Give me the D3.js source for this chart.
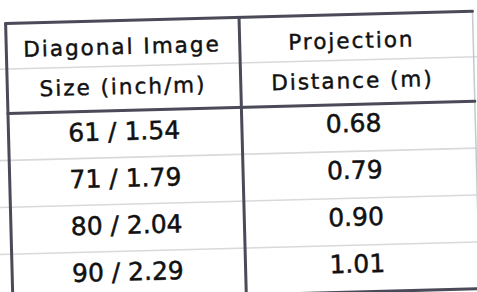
<!DOCTYPE html>
<html>
<head>
<meta charset="utf-8">
<script src="https://cdn.jsdelivr.net/npm/d3@7"></script>
<style>
  body { margin: 0; background: #ffffff; }
  svg { display: block; }
</style>
</head>
<body>
<div id="table"></div>
<script>
// table values
var columns = ["size", "distance"];
var headerSize = ["Diagonal Image", "Size (inch/m)"];
var headerDistance = ["Projection", "Distance (m)"];
var sizeInch = [61, 71, 80, 90];
var sizeMeter = ["1.54", "1.79", "2.04", "2.29"];
var distance = ["0.68", "0.79", "0.90", "1.01"];

var svgWidth = 477;
var svgHeight = 292;

// (don't call it "top", window.top is taken)
var tLeft = 9, tRight = 476, tTop = 17.5, headBottom = 107.5, tBottom = 295;

var svg = d3.select("#table")
    .append("svg")
    .attr("width", svgWidth)
    .attr("height", svgHeight);

// the photo is a little tilted
var g = svg.append("g")
    .attr("transform", "rotate(-1.5, 240, 150)");

var rows = d3.range(sizeInch.length);

var xScale = d3.scaleBand()
    .domain(columns)
    .range([tLeft, tRight]);

var yScale = d3.scaleBand()
    .domain(rows)
    .range([headBottom, tBottom]);

// faint ruled paper lines
var ruled = [63].concat(rows.slice(1).map(function(r) { return yScale(r); }));
g.selectAll(".ruled")
    .data(ruled)
    .enter()
    .append("line")
    .attr("class", "ruled")
    .attr("x1", -20)
    .attr("x2", 500)
    .attr("y1", d => d)
    .attr("y2", d => d)
    .attr("stroke", "#d9d9dc")
    .attr("stroke-width", 1.6);

// right border is faint
g.append("line")
    .attr("x1", tRight).attr("x2", tRight)
    .attr("y1", tTop).attr("y2", tBottom)
    .attr("stroke", "#c8c8cc")
    .attr("stroke-width", 1.5);

// heavy lines
var dark = "#4a4a58";
var heavy = [
    [tLeft, tTop, tRight, tTop],
    [tLeft, tTop, tLeft, tBottom + 5],
    [tLeft, headBottom, tRight, headBottom],
    [xScale("distance"), tTop, xScale("distance"), tBottom],
    [tLeft, tBottom, tRight, tBottom]
];
g.selectAll(".heavy")
    .data(heavy)
    .enter()
    .append("line")
    .attr("class", "heavy")
    .attr("x1", d => d[0])
    .attr("y1", d => d[1])
    .attr("x2", d => d[2])
    .attr("y2", d => d[3])
    .attr("stroke", dark)
    .attr("stroke-width", 3)
    .attr("stroke-linecap", "round");

var font = "'Comic Sans MS', 'DejaVu Sans', sans-serif";
var colX = {
    size: xScale("size") + xScale.bandwidth() / 2 - 1,
    distance: xScale("distance") + xScale.bandwidth() / 2 - 5
};

// header text
var headBase = [51, 91];
g.selectAll(".headSize")
    .data(headerSize)
    .enter()
    .append("text")
    .attr("class", "headSize")
    .attr("x", colX.size)
    .attr("y", (d, i) => headBase[i])
    .attr("text-anchor", "middle")
    .attr("font-family", font)
    .attr("font-size", 21.5)
    .attr("letter-spacing", 2)
    .attr("fill", "#111")
    .attr("stroke", "#111")
    .attr("stroke-width", 0.45)
    .text(d => d);

g.selectAll(".headDist")
    .data(headerDistance)
    .enter()
    .append("text")
    .attr("class", "headDist")
    .attr("x", colX.distance)
    .attr("y", (d, i) => headBase[i])
    .attr("text-anchor", "middle")
    .attr("font-family", font)
    .attr("font-size", 21.5)
    .attr("letter-spacing", 2)
    .attr("fill", "#111")
    .attr("stroke", "#111")
    .attr("stroke-width", 0.45)
    .text(d => d);

// body cells
g.selectAll(".cellSize")
    .data(rows)
    .enter()
    .append("text")
    .attr("class", "cellSize")
    .attr("x", colX.size)
    .attr("y", d => yScale(d) + yScale.bandwidth() / 2 + 6)
    .attr("text-anchor", "middle")
    .attr("font-family", font)
    .attr("font-size", 25)
    .attr("fill", "#111")
    .attr("stroke", "#111")
    .attr("stroke-width", 0.5)
    .text(d => sizeInch[d] + " / " + sizeMeter[d]);

g.selectAll(".cellDist")
    .data(rows)
    .enter()
    .append("text")
    .attr("class", "cellDist")
    .attr("x", colX.distance)
    .attr("y", d => yScale(d) + yScale.bandwidth() / 2 + 4)
    .attr("text-anchor", "middle")
    .attr("font-family", font)
    .attr("font-size", 25)
    .attr("fill", "#111")
    .attr("stroke", "#111")
    .attr("stroke-width", 0.5)
    .text(d => distance[d]);
</script>
</body>
</html>
